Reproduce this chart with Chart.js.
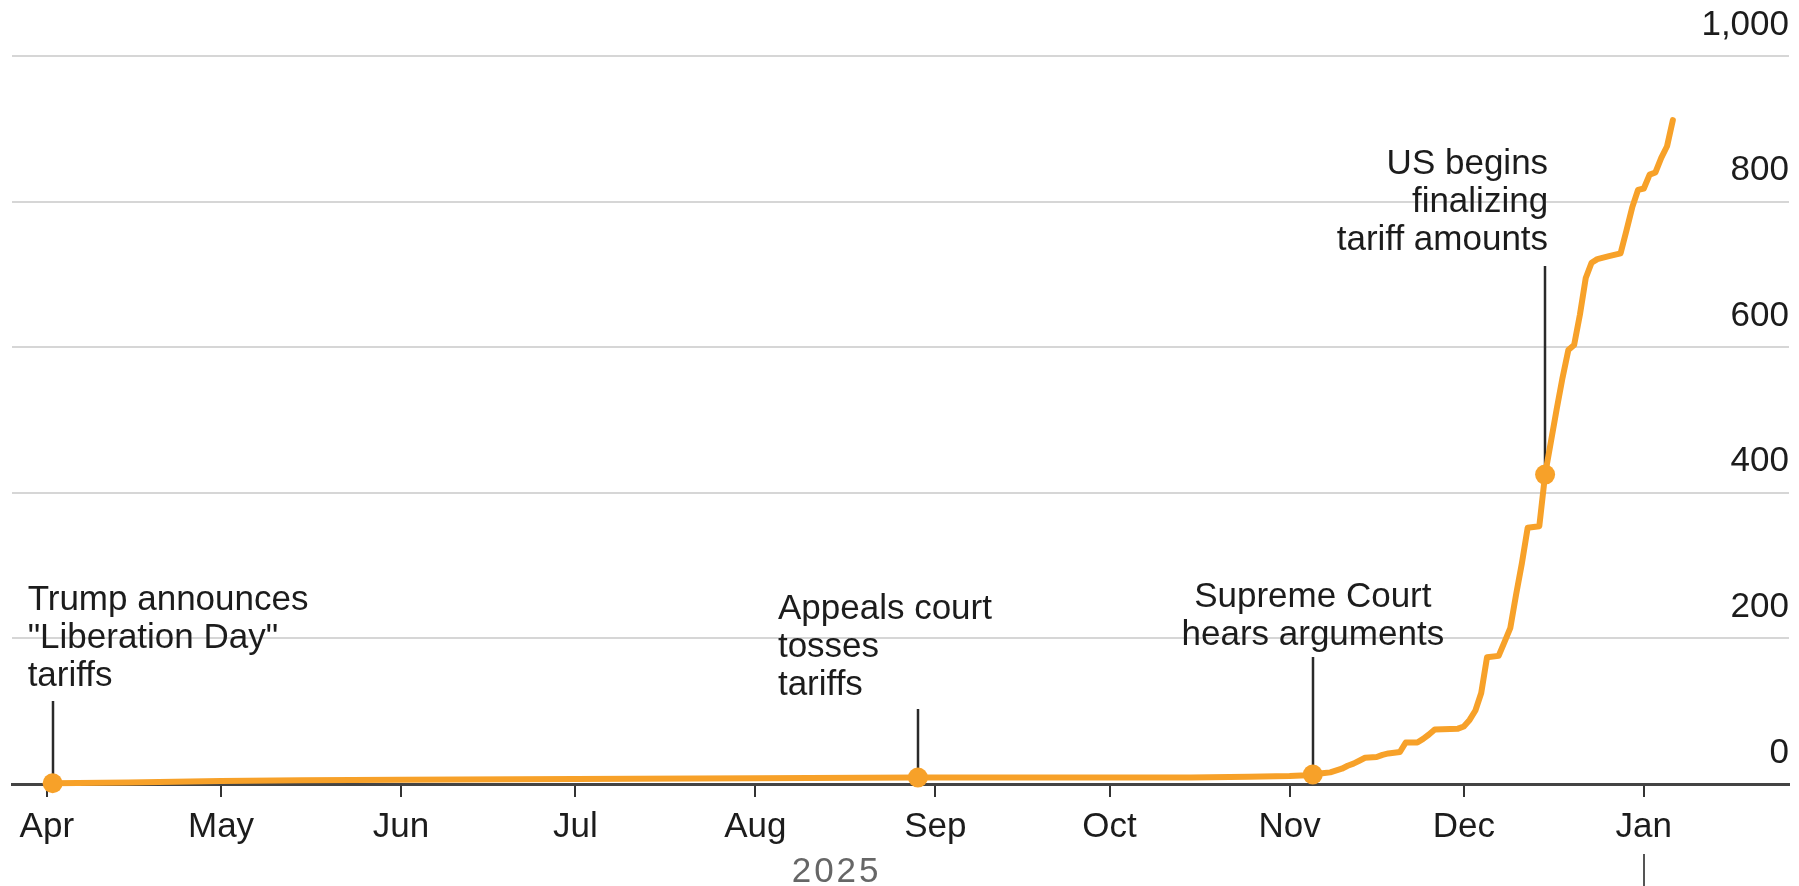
<!DOCTYPE html>
<html><head><meta charset="utf-8">
<script src="https://cdn.jsdelivr.net/npm/chart.js@4.4.1/dist/chart.umd.min.js"></script>
<style>html,body{margin:0;padding:0;background:#fff;}canvas{display:block;}</style>
</head><body>
<canvas id="c" width="1799" height="886"></canvas>
<script>
// ---- data ----
const dates = ['2025-04-02','2025-04-15','2025-05-01','2025-05-15','2025-06-01','2025-07-01','2025-08-01','2025-08-29',
'2025-09-15','2025-10-01','2025-10-15','2025-10-25','2025-11-01','2025-11-04','2025-11-05','2025-11-07','2025-11-08',
'2025-11-10','2025-11-11','2025-11-12','2025-11-13','2025-11-14','2025-11-16','2025-11-17','2025-11-18','2025-11-20',
'2025-11-21','2025-11-23','2025-11-24','2025-11-25','2025-11-26','2025-11-30','2025-12-01','2025-12-02','2025-12-03',
'2025-12-04','2025-12-05','2025-12-07','2025-12-08','2025-12-09','2025-12-10','2025-12-11','2025-12-12','2025-12-14',
'2025-12-15','2025-12-16','2025-12-17','2025-12-18','2025-12-19','2025-12-20','2025-12-21','2025-12-22','2025-12-23',
'2025-12-24','2025-12-26','2025-12-28','2025-12-29','2025-12-30','2025-12-31','2026-01-01','2026-01-02','2026-01-03',
'2026-01-04','2026-01-05','2026-01-06'];
const values = [1,2,4,5,6,7,8,9,
9,9,9,10,11,12,13,15,16,
21,25,28,32,36,37,40,42,44,
57,57,62,68,75,76,79,88,101,
125,174,176,195,214,260,303,352,354,
425,470,515,558,596,603,645,695,716,
721,725,729,760,792,816,818,837,840,
860,876,912];

const eventDates = ['2025-04-02','2025-08-29','2025-11-05','2025-12-15'];
const eventValues = [1, 9, 13, 425];
const eventLabels = [
  ['Trump announces','"Liberation Day"','tariffs'],
  ['Appeals court','tosses','tariffs'],
  ['Supreme Court','hears arguments'],
  ['US begins','finalizing','tariff amounts']
];

const monthTicks = ['2025-04-01','2025-05-01','2025-06-01','2025-07-01','2025-08-01','2025-09-01','2025-10-01','2025-11-01','2025-12-01','2026-01-01'];
const monthLabels = ['Apr','May','Jun','Jul','Aug','Sep','Oct','Nov','Dec','Jan'];
const yTicks = [0,200,400,600,800,1000];
const yearLabel = '2025';
const yearLabelDate = '2025-08-15';
const yearBoundary = '2026-01-01';
const axisStart = '2025-03-26';
const axisEnd = '2026-01-26';

// ---- helpers ----
const BASE = Date.UTC(2025,3,1);
function dayOf(s){ const p = s.split('-').map(Number); return (Date.UTC(p[0],p[1]-1,p[2]) - BASE)/86400000; }

const FONT = "'Liberation Sans', Arial, Helvetica, sans-serif";
const ORANGE = '#f7a129';
const TEXT = '#1c1c1c';

const annoLayout = [
  {align:'left',   dx:-25,  textY:600, leaderTop:701},
  {align:'left',   dx:-140, textY:609, leaderTop:709},
  {align:'center', dx:0,    textY:597, leaderTop:657},
  {align:'right',  dx:3,    textY:164, leaderTop:266}
];

const annotationPlugin = {
  id: 'annos',
  beforeDatasetsDraw(chart){
    const ctx = chart.ctx, xs = chart.scales.x, ys = chart.scales.y;
    ctx.save();
    ctx.strokeStyle = '#2a2a2a';
    ctx.lineWidth = 2.5;
    eventDates.forEach((d,i)=>{
      const x = Math.round(xs.getPixelForValue(dayOf(d)));
      const y = ys.getPixelForValue(eventValues[i]);
      ctx.beginPath();
      ctx.moveTo(x, y);
      ctx.lineTo(x, annoLayout[i].leaderTop);
      ctx.stroke();
    });
    ctx.restore();
  },
  afterDatasetsDraw(chart){
    const ctx = chart.ctx, xs = chart.scales.x;
    ctx.save();
    ctx.fillStyle = TEXT;
    ctx.font = '35px ' + FONT;
    ctx.textBaseline = 'middle';
    eventDates.forEach((d,i)=>{
      const L = annoLayout[i];
      const x = xs.getPixelForValue(dayOf(d)) + L.dx;
      ctx.textAlign = L.align;
      eventLabels[i].forEach((line,j)=>{
        ctx.fillText(line, x, L.textY + j*38);
      });
    });
    // year label
    ctx.fillStyle = '#666';
    ctx.font = '35px ' + FONT;
    ctx.textAlign = 'center';
    try { ctx.letterSpacing = '3px'; } catch(e) {}
    ctx.fillText(yearLabel, xs.getPixelForValue(dayOf(yearLabelDate)), 872);
    try { ctx.letterSpacing = '0px'; } catch(e) {}
    // year boundary marker
    const jx = Math.round(xs.getPixelForValue(dayOf(yearBoundary)));
    ctx.strokeStyle = '#555';
    ctx.lineWidth = 2;
    ctx.beginPath();
    ctx.moveTo(jx, 854);
    ctx.lineTo(jx, 886);
    ctx.stroke();
    ctx.restore();
  }
};

new Chart(document.getElementById('c'), {
  type: 'line',
  data: {
    datasets: [
      {
        data: dates.map((d,i)=>({x: dayOf(d), y: values[i]})),
        borderColor: ORANGE,
        borderWidth: 6,
        pointRadius: 0,
        tension: 0,
        borderJoinStyle: 'round',
        borderCapStyle: 'round',
        fill: false,
        clip: false,
        order: 2
      },
      {
        data: eventDates.map((d,i)=>({x: dayOf(d), y: eventValues[i]})),
        showLine: false,
        pointRadius: 10,
        pointBackgroundColor: ORANGE,
        pointBorderWidth: 0,
        clip: false,
        order: 1
      }
    ]
  },
  options: {
    responsive: false,
    devicePixelRatio: 1,
    animation: false,
    events: [],
    layout: { padding: { left: 12, right: 9, top: 56, bottom: 0 } },
    plugins: { legend: { display: false }, tooltip: { enabled: false } },
    scales: {
      x: {
        type: 'linear',
        min: dayOf(axisStart),
        max: dayOf(axisEnd),
        afterBuildTicks(s){ s.ticks = monthTicks.map(d=>({value: dayOf(d)})); },
        afterFit(s){ s.height = 102; },
        ticks: {
          autoSkip: false, maxRotation: 0, minRotation: 0,
          padding: 9,
          color: TEXT,
          font: { family: FONT, size: 35 },
          callback: (v, i) => monthLabels[i]
        },
        grid: { drawOnChartArea: false, drawTicks: true, tickLength: 13, color: '#333', lineWidth: 2 },
        border: { display: true, color: '#444', width: 3 }
      },
      y: {
        position: 'right',
        min: 0, max: 1000,
        afterBuildTicks(s){ s.ticks = yTicks.map(v=>({value: v})); },
        afterFit(s){ s.width = 0; },
        ticks: {
          mirror: true,
          padding: 0,
          labelOffset: -31,
          color: TEXT,
          font: { family: FONT, size: 35 },
          callback: (v) => Number(v).toLocaleString('en-US')
        },
        grid: { drawTicks: false, color: '#d6d6d6', lineWidth: 2 },
        border: { display: false }
      }
    }
  },
  plugins: [annotationPlugin]
});
</script>
</body></html>
